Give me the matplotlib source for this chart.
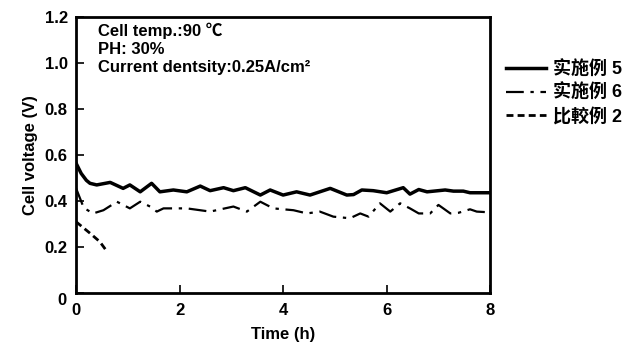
import matplotlib
matplotlib.use("Agg")
import matplotlib.pyplot as plt
from matplotlib.ticker import FixedLocator, FixedFormatter

plt.rcParams['font.family'] = ['Liberation Sans', 'Noto Sans CJK SC', 'DejaVu Sans']
plt.rcParams['font.weight'] = 'bold'

# 实施例5 (solid)
t5 = [0, 0.1, 0.2, 0.27, 0.4, 0.66, 0.91, 1.04, 1.24, 1.46, 1.62, 1.88, 2.14, 2.4, 2.59,
      2.85, 3.04, 3.27, 3.56, 3.75, 4.0, 4.26, 4.52, 4.91, 5.23, 5.36, 5.52, 5.74, 6.0,
      6.32, 6.45, 6.62, 6.78, 7.13, 7.29, 7.48, 7.61, 7.97]
v5 = [0.565, 0.52, 0.49, 0.477, 0.47, 0.481, 0.455, 0.47, 0.44, 0.477, 0.44, 0.448, 0.44,
      0.465, 0.445, 0.458, 0.445, 0.458, 0.426, 0.448, 0.426, 0.44, 0.426, 0.455, 0.426,
      0.428, 0.448, 0.445, 0.436, 0.458, 0.43, 0.45, 0.44, 0.448, 0.443, 0.443, 0.436, 0.436]

# 实施例6 (dash-dot)
t6 = [0, 0.15, 0.33, 0.53, 0.79, 1.04, 1.24, 1.43, 1.56, 1.69, 2.14, 2.59, 3.04, 3.3,
      3.56, 3.81, 4.2, 4.46, 4.71, 4.97, 5.29, 5.49, 5.65, 5.87, 6.07, 6.26, 6.45, 6.62,
      6.84, 7.0, 7.23, 7.39, 7.61, 7.74, 7.97]
v6 = [0.456, 0.37, 0.346, 0.36, 0.397, 0.368, 0.397, 0.376, 0.354, 0.368, 0.368, 0.354,
      0.376, 0.354, 0.397, 0.368, 0.36, 0.346, 0.354, 0.332, 0.325, 0.346, 0.332, 0.39,
      0.354, 0.39, 0.368, 0.346, 0.346, 0.383, 0.346, 0.349, 0.364, 0.354, 0.351]

# 比較例2 (dashed)
tc = [0, 0.27, 0.46, 0.6]
vc = [0.31, 0.26, 0.223, 0.18]

labels = ['实施例 5', '实施例 6', '比較例 2']
xticks = [0, 2, 4, 6, 8]
yticks = [0, 0.2, 0.4, 0.6, 0.8, 1.0, 1.2]
ytick_labels = ['', '0.2', '0.4', '0.6', '0.8', '1.0', '1.2']

fig = plt.figure(figsize=(6.35, 3.56), dpi=100)
ax = fig.add_axes([0.1197, 0.177, 0.6523, 0.775])

ax.plot(t5, v5, '-', color='black', lw=2.5, label=labels[0])
ax.plot(t6, v6, color='black', lw=1.6, dashes=(8, 3, 1.5, 3), label=labels[1])
ax.plot(tc, vc, color='black', lw=2.0, dashes=(2.5, 1.5), label=labels[2])

ax.set_xlim(0, 8)
ax.set_ylim(0, 1.2)
ax.xaxis.set_major_locator(FixedLocator(xticks))
ax.yaxis.set_major_locator(FixedLocator(yticks))
ax.yaxis.set_major_formatter(FixedFormatter(ytick_labels))
ax.tick_params(direction='in', length=6, width=1.2, labelsize=12)
ax.tick_params(axis='x', pad=7)
ax.tick_params(axis='y', pad=6)
for lab in ax.get_xticklabels() + ax.get_yticklabels():
    lab.set_fontweight('bold')
for s in ax.spines.values():
    s.set_linewidth(2)

ax.text(-0.022, -0.027, '0', transform=ax.transAxes, ha='right', va='center',
        fontsize=12, fontweight='bold')

ax.set_xlabel('Time (h)', fontsize=12, fontweight='bold', labelpad=7)
ax.set_ylabel('Cell voltage (V)', fontsize=12, fontweight='bold', labelpad=5)

ax.text(0.052, 0.98, 'Cell temp.:90 \u2103\nPH: 30%\nCurrent dentsity:0.25A/cm\u00b2',
        transform=ax.transAxes, ha='left', va='top', fontsize=12, fontweight='bold',
        linespacing=1.25)

leg = fig.legend(loc='upper left', bbox_to_anchor=(0.772, 0.875), frameon=False,
                 handlelength=2.2, handletextpad=0.4, labelspacing=0.3,
                 prop={'size': 13, 'weight': 'bold'})

fig.savefig('out.png', dpi=100)
